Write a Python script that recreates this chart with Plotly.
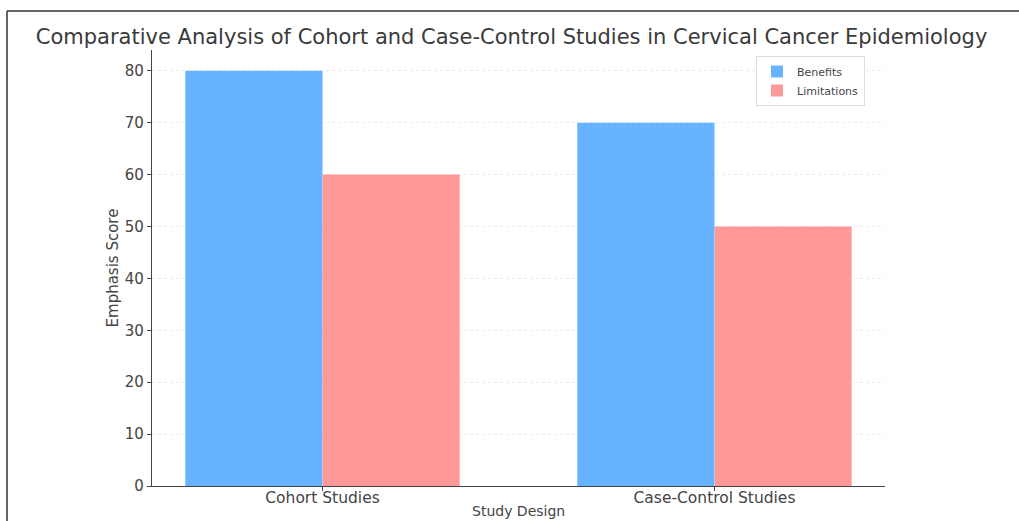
import plotly.graph_objects as go

# Study designs and their emphasis scores
designs = ["Cohort Studies", "Case-Control Studies"]
benefits = [80, 70]
limitations = [60, 50]

FONT = "DejaVu Sans"
TXT = "#444444"

fig = go.Figure()
fig.add_trace(go.Bar(x=designs, y=benefits, name="Benefits",
                     marker=dict(color="#66b3ff", line=dict(width=0))))
fig.add_trace(go.Bar(x=designs, y=limitations, name="Limitations",
                     marker=dict(color="#ff9999", line=dict(width=0))))

# plot area in pixels: x 152..885, y 50..486
L, R, T, B = 152, 885, 50, 486
W, H = 1019, 521
pw, ph = R - L, B - T

def px_x(v):
    return (v - L) / pw

def px_y(v):
    return (B - v) / ph

fig.update_layout(
    width=W, height=H,
    margin=dict(l=L, r=W - R, t=T, b=H - B, autoexpand=False),
    paper_bgcolor="white", plot_bgcolor="white",
    barmode="group", bargap=0.3, bargroupgap=0,
    font=dict(family=FONT, color=TXT, size=14),
    title=dict(text="Comparative Analysis of Cohort and Case-Control Studies in Cervical Cancer Epidemiology",
               x=px_x(520), xanchor="center", y=1 - 37 / H, yanchor="middle",
               font=dict(size=21, color="#3a3a3a")),
    legend=dict(x=px_x(756), y=px_y(56), xanchor="left", yanchor="top",
                bgcolor="rgba(255,255,255,0.9)", bordercolor="#dddddd", borderwidth=1,
                font=dict(size=11, color=TXT), itemwidth=30, tracegroupgap=0),
    showlegend=True,
)

fig.update_xaxes(
    range=[-0.435, 1.435], showline=True, linecolor="#444444", linewidth=1.2,
    ticks="outside", ticklen=4, tickcolor="#444444", tickfont=dict(size=15.5, color=TXT),
    ticklabelstandoff=-7,
    automargin=False, showgrid=False, zeroline=False,
)
fig.update_yaxes(
    range=[0, 84], tickvals=[0, 10, 20, 30, 40, 50, 60, 70, 80],
    showline=True, linecolor="#444444", linewidth=1.2,
    ticks="outside", ticklen=4, tickcolor="#444444", tickfont=dict(size=15, color=TXT),
    automargin=False,
    showgrid=True, gridcolor="#ececec", griddash="dot", gridwidth=1, zeroline=False,
    title=dict(text="Emphasis Score", font=dict(size=15, color=TXT), standoff=2),
)

# x-axis title placed low, just inside the bottom edge
fig.add_annotation(text="Study Design", xref="paper", yref="paper",
                   x=0.5, y=px_y(520), xanchor="center", yanchor="bottom",
                   showarrow=False, font=dict(size=14, color=TXT),
                   borderpad=0)

# outer frame lines along the top and left edges
fig.add_shape(type="line", xref="paper", yref="paper",
              x0=px_x(7), x1=px_x(W), y0=px_y(11), y1=px_y(11),
              line=dict(color="#333333", width=1.5))
fig.add_shape(type="line", xref="paper", yref="paper",
              x0=px_x(7), x1=px_x(7), y0=px_y(11), y1=px_y(H),
              line=dict(color="#333333", width=1.5))

fig.write_html("out.html")
